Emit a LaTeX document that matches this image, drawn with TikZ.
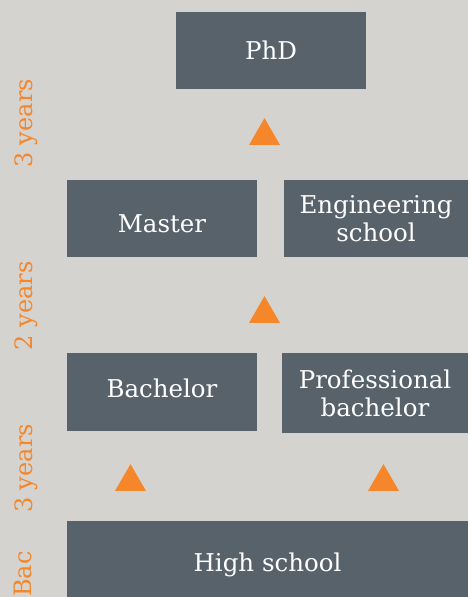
\documentclass[tikz,border=0pt]{standalone}
\usepackage{fontspec}
\setmainfont{DejaVu Serif}
\usetikzlibrary{shapes.geometric}
\usetikzlibrary{positioning}
\definecolor{bgGray}{HTML}{D5D3CF}
\definecolor{boxSlate}{HTML}{57626B}
\definecolor{arrowOrange}{HTML}{F5862A}
\tikzstyle{degree} = [rectangle, fill=boxSlate, text=white, inner sep=0pt, align=center, font=\fontsize{24.5}{28}\selectfont]
\tikzstyle{stepup} = [regular polygon, regular polygon sides=3, fill=arrowOrange, inner sep=0pt, minimum size=35.8pt]
\tikzstyle{span} = [rotate=90, anchor=base, text=arrowOrange, inner sep=0pt, font=\fontsize{24}{28}\selectfont]

\begin{document}
\begin{tikzpicture}[x=1pt, y=-1pt]
\fill[bgGray] (0,0) rectangle (468,597);
\useasboundingbox (0,0) rectangle (468,597);

% degrees
\node (phd) [degree, minimum width=190pt, minimum height=77pt] at (271,50.5) {PhD};
\node (master) [degree, minimum width=190pt, minimum height=77pt, text height=27pt, text depth=0pt] at (162,218.5) {Master};
\node (engschool) [degree, minimum width=184pt, minimum height=77pt] at (376,218.5) {Engineering\\school};
\node (bachelor) [degree, minimum width=190pt, minimum height=78pt, text height=18.6pt, text depth=7pt] at (162,392) {Bachelor};
\node (probachelor) [degree, minimum width=186pt, minimum height=80pt] at (375,393) {Professional\\bachelor};
\node (highschool) [degree, minimum width=401pt, minimum height=77pt, text height=23pt, text depth=0pt] at (267.5,559.5) {High school};

% triangles
\node (up1) [stepup] at (264.5,136) {};
\node (up2) [stepup] at (264.5,314) {};
\node (up3) [stepup] at (130.5,482) {};
\node (up4) [stepup] at (383.5,482) {};

% years
\node (yrs1) [span] at (32,123.5) {3 years};
\node (yrs2) [span] at (32,306) {2 years};
\node (yrs3) [span] at (32,468.5) {3 years};
\node (bac) [span] at (31,574) {Bac};
\end{tikzpicture}
\end{document}
